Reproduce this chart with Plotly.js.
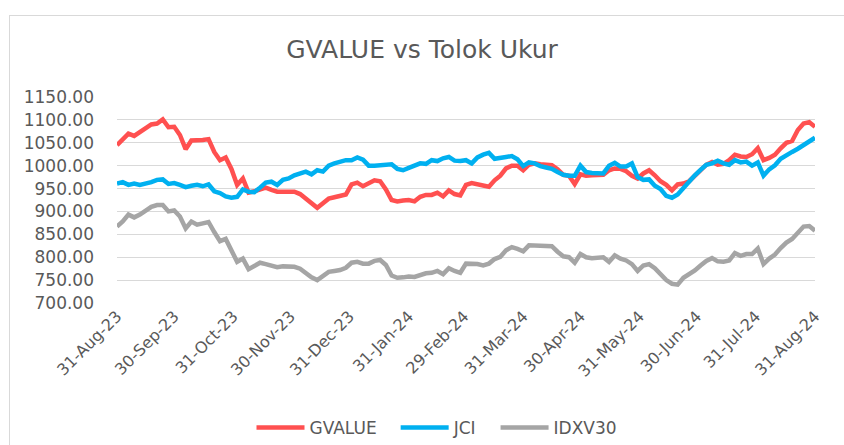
<!DOCTYPE html>
<html>
<head>
<meta charset="utf-8">
<script src="https://cdn.plot.ly/plotly-3.0.1.min.js"></script>
<style>
  html, body { margin: 0; padding: 0; background: #ffffff; overflow: hidden; }
  #wrap { position: relative; width: 844px; height: 445px; }
  #chart { position: absolute; left: 0; top: 0; width: 844px; height: 445px; }
  #frame { position: absolute; left: 9px; top: 15px; width: 900px; height: 500px;
           border-left: 1.5px solid #D9D9D9; border-top: 1.5px solid #D9D9D9; pointer-events: none; }
</style>
</head>
<body>
<div id="wrap">
  <div id="chart"></div>
  <div id="frame"></div>
</div>
<script>
// Dates (sampled roughly every 3 days)
var dates = [
  '2023-08-31','2023-09-03','2023-09-06','2023-09-09','2023-09-12','2023-09-15','2023-09-18','2023-09-21','2023-09-24','2023-09-27',
  '2023-09-30','2023-10-03','2023-10-06','2023-10-09','2023-10-12','2023-10-15','2023-10-18','2023-10-21','2023-10-24','2023-10-27',
  '2023-10-30','2023-11-02','2023-11-05','2023-11-08','2023-11-11','2023-11-14','2023-11-17','2023-11-20','2023-11-23','2023-11-26',
  '2023-11-29','2023-12-02','2023-12-05','2023-12-08','2023-12-11','2023-12-14','2023-12-17','2023-12-20','2023-12-23','2023-12-26',
  '2023-12-29','2024-01-01','2024-01-04','2024-01-07','2024-01-10','2024-01-13','2024-01-16','2024-01-19','2024-01-22','2024-01-25',
  '2024-01-28','2024-01-31','2024-02-03','2024-02-06','2024-02-09','2024-02-12','2024-02-15','2024-02-18','2024-02-21','2024-02-24',
  '2024-02-27','2024-03-01','2024-03-04','2024-03-07','2024-03-10','2024-03-13','2024-03-16','2024-03-19','2024-03-22','2024-03-25',
  '2024-03-28','2024-03-31','2024-04-03','2024-04-06','2024-04-09','2024-04-12','2024-04-15','2024-04-18','2024-04-21','2024-04-24',
  '2024-04-27','2024-04-30','2024-05-03','2024-05-06','2024-05-09','2024-05-12','2024-05-15','2024-05-18','2024-05-21','2024-05-24',
  '2024-05-27','2024-05-30','2024-06-02','2024-06-05','2024-06-08','2024-06-11','2024-06-14','2024-06-17','2024-06-20','2024-06-23',
  '2024-06-26','2024-06-29','2024-07-02','2024-07-05','2024-07-08','2024-07-11','2024-07-14','2024-07-17','2024-07-20','2024-07-23',
  '2024-07-26','2024-07-29','2024-08-01','2024-08-04','2024-08-07','2024-08-10','2024-08-13','2024-08-16','2024-08-19','2024-08-22',
  '2024-08-25','2024-08-28','2024-08-31'
];

var gvalue = [
  1045,1058,1070,1065,1074,1084,1090,1092,1101,1084,1085,1067,1036,1055,1055,1056,1058,1030,1012,1018,
  993,958,972,941,944,947,952,947,943,943,
  943,943,938,928,917,908,918,928,931,933,937,959,963,955,961,968,966,948,925,922,
  924,925,922,932,936,936,941,933,946,938,935,
  958,962,960,957,954,968,978,994,1000,1000,990,1002,1005,1003,1001,1001,992,980,978,960,
  981,978,979,980,980,990,994,993,988,978,972,
  983,990,979,966,958,946,959,961,966,978,991,1002,1008,1002,1004,1012,1024,1020,1019,1025,
  1038,1012,1017,1024,1038,1050,1054,1078,1092,1095,1085
];

var jci = [
  961,964,958,961,958,960,964,969,970,960,962,958,953,956,958,955,959,944,940,933,
  930,932,948,943,942,952,963,965,958,969,
  972,979,983,987,981,990,987,1000,1005,1008,1012,1012,1018,1013,1000,1000,1001,1001,1003,993,
  990,995,999,1005,1004,1012,1010,1016,1019,1011,1010,
  1012,1005,1018,1024,1028,1015,1016,1019,1021,1014,999,1007,1005,999,996,993,986,980,978,978,
  1000,986,984,983,983,1000,1006,998,998,1005,975,
  969,970,956,949,934,930,937,952,964,979,991,1002,1005,1011,1005,1002,1012,1007,1009,1000,
  1007,978,992,1001,1015,1024,1030,1037,1046,1053,1061
];

var idxv30 = [
  867,878,893,887,893,901,910,914,914,900,902,889,863,878,871,874,877,855,835,840,
  815,790,797,774,781,788,785,782,778,780,
  780,779,775,765,756,750,759,768,770,772,777,788,790,786,786,792,794,783,760,755,
  756,758,757,762,765,766,770,763,776,770,766,
  786,786,785,782,786,796,801,815,822,818,813,826,826,826,824,824,812,802,800,788,
  807,800,798,799,800,790,804,797,793,785,770,
  782,785,776,763,750,742,740,755,763,771,782,792,798,791,790,793,809,803,807,807,
  819,785,797,806,820,832,840,853,867,868,858
];

var seriesNames = ['GVALUE', 'JCI', 'IDXV30'];
var seriesColors = ['#FF5050', '#00B0F0', '#A5A5A5'];

var tickDates = ['2023-08-31','2023-09-30','2023-10-31','2023-11-30','2023-12-31','2024-01-31',
                 '2024-02-29','2024-03-31','2024-04-30','2024-05-31','2024-06-30','2024-07-31','2024-08-31'];

var font = 'DejaVu Sans';
var textColor = '#595959';

var allValues = [gvalue, jci, idxv30];
var traces = allValues.map(function (vals, i) {
  return {
    type: 'scatter', mode: 'lines',
    x: dates, y: vals, name: seriesNames[i],
    line: { color: seriesColors[i], width: 4.5 },
    hoverinfo: 'x+y+name'
  };
});

var layout = {
  width: 844, height: 445,
  paper_bgcolor: 'rgba(0,0,0,0)', plot_bgcolor: '#ffffff',
  margin: { l: 117, r: 29, t: 97, b: 142, pad: 0 },
  font: { family: font, color: textColor, size: 17 },
  title: {
    text: 'GVALUE vs Tolok Ukur',
    font: { family: font, size: 25, color: textColor },
    x: 0.5, xref: 'container', xanchor: 'center',
    y: 1 - 49 / 445, yref: 'container', yanchor: 'middle'
  },
  xaxis: {
    type: 'date',
    range: ['2023-08-31', '2024-08-31'],
    tickvals: tickDates,
    tickformat: '%d-%b-%y',
    tickangle: -45,
    ticks: '', showgrid: false, zeroline: false, showline: false,
    tickfont: { family: font, size: 16, color: textColor }
  },
  yaxis: {
    range: [700, 1150], dtick: 50, tick0: 700,
    tickformat: '.2f',
    ticks: '', showline: false, zeroline: false,
    gridcolor: '#D9D9D9', gridwidth: 1,
    ticklabelstandoff: 22,
    tickfont: { family: font, size: 17, color: textColor }
  },
  showlegend: true,
  legend: {
    orientation: 'h',
    x: (430 - 117) / 698, xanchor: 'center',
    y: 1 - 428 / 445, yref: 'container', yanchor: 'middle',
    font: { family: font, size: 17, color: textColor },
    itemwidth: 62,
    tracegroupgap: 0
  }
};

Plotly.newPlot('chart', traces, layout, { displayModeBar: false, staticPlot: true }).then(function (gd) {
  // lengthen the legend line samples to match the reference (48px, ending just before the text)
  var paths = gd.querySelectorAll('.legend .legendlines path');
  paths.forEach(function (p) { p.setAttribute('d', 'M19,0h48'); });
});
</script>
</body>
</html>
